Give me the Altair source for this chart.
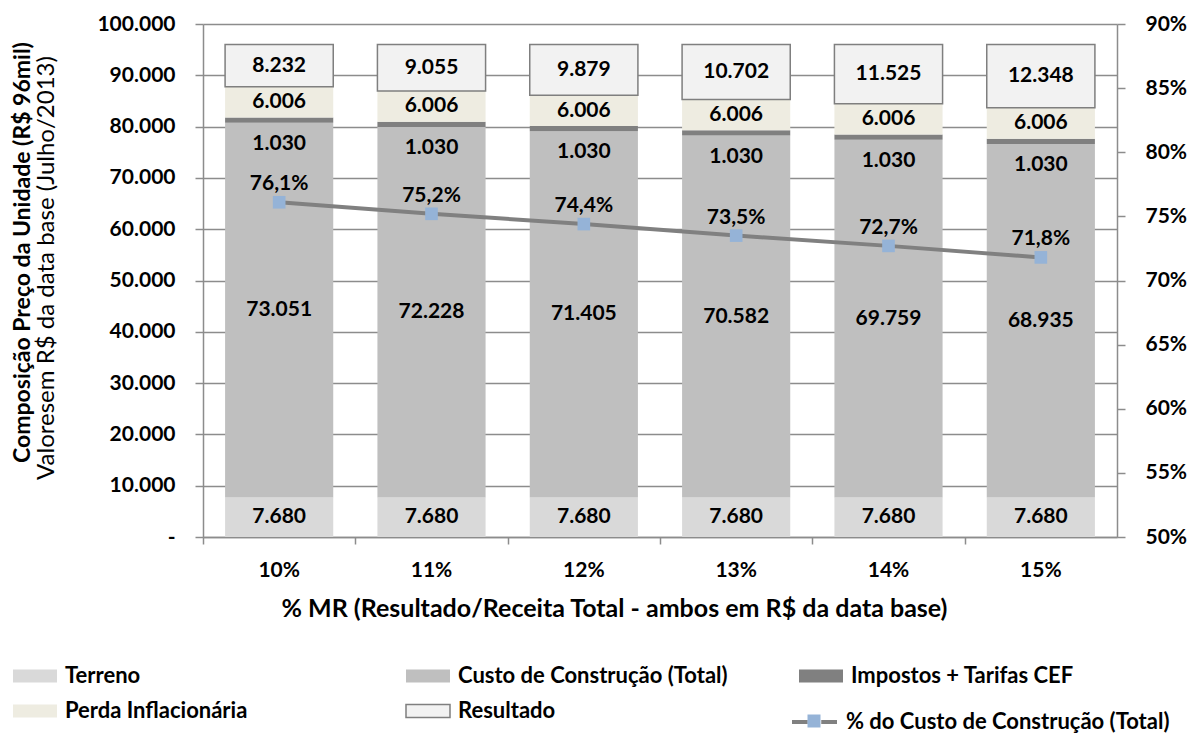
import altair as alt
import pandas as pd

# ---- data ----
categories = ['10%', '11%', '12%', '13%', '14%', '15%']
terreno = [7680, 7680, 7680, 7680, 7680, 7680]
custo = [73051, 72228, 71405, 70582, 69759, 68935]
impostos = [1030, 1030, 1030, 1030, 1030, 1030]
perda = [6006, 6006, 6006, 6006, 6006, 6006]
resultado = [8232, 9055, 9879, 10702, 11525, 12348]
pct_custo = [0.761, 0.752, 0.744, 0.735, 0.727, 0.718]

series_names = ['Terreno', 'Custo de Construção (Total)', 'Impostos + Tarifas CEF',
                'Perda Inflacionária', 'Resultado']
series_colors = ['#d9d9d9', '#bfbfbf', '#808080', '#eeece1', '#f2f2f2']
series_strokes = ['transparent', 'transparent', 'transparent', 'transparent', '#7f7f7f']
# legend fills column by column: this order gives rows
# Terreno | Custo | Impostos  /  Perda | Resultado
legend_order = [0, 3, 1, 4, 2]
line_name = '% do Custo de Construção (Total)'

left_ticks = [0, 10000, 20000, 30000, 40000, 50000, 60000, 70000, 80000, 90000, 100000]
right_ticks = [0.50, 0.55, 0.60, 0.65, 0.70, 0.75, 0.80, 0.85, 0.90]

y_title = 'Composição Preço da Unidade (R$ 96mil)'
y_subtitle = 'Valoresem R$ da data base (Julho/2013)'
x_title = '% MR (Resultado/Receita Total - ambos em R$ da data base)'

# ---- tables ----
rows = []
for i, c in enumerate(categories):
    for j, vals in enumerate([terreno, custo, impostos, perda, resultado]):
        rows.append({'cat': c, 'series': series_names[j], 'idx': j, 'value': vals[i]})
bars_df = pd.DataFrame(rows)
line_df = pd.DataFrame({'cat': categories, 'pct': pct_custo,
                        'lname': [line_name] * 6, 'pname': [line_name] * 6})
sub_df = pd.DataFrame({'t': [y_subtitle]})

dom_order = [series_names[k] for k in legend_order]
col_order = [series_colors[k] for k in legend_order]
stk_order = [series_strokes[k] for k in legend_order]

FONT = 'Lato'
FS = 21
LFS = 22
GRID = '#8c8c8c'
W = 914
PAD_IN = 0.29
PAD_OUT = 0.145

xscale = alt.Scale(domain=categories, paddingInner=PAD_IN, paddingOuter=PAD_OUT)
yscale = alt.Scale(domain=[0, 100000], nice=False, zero=True)
pscale = alt.Scale(domain=[0.5, 0.9], nice=False, zero=False)

bar_legend = alt.Legend(
    orient='none', legendX=-191, legendY=629, title=None, columns=3,
    gridAlign='all', columnPadding=68, rowPadding=1, padding=0,
    symbolType='M-1,-0.3H1V0.3H-1Z', symbolSize=1936, symbolStrokeWidth=1.5,
    labelFont=FONT, labelFontSize=LFS, labelFontWeight='bold', labelColor='black',
    labelOffset=7, labelLimit=600,
)

bars = alt.Chart(bars_df).mark_bar(strokeWidth=1.5).encode(
    x=alt.X('cat:N', sort=categories, scale=xscale, title=x_title,
            axis=alt.Axis(orient='bottom', labelAngle=0, ticks=False, tickSize=0,
                          labelPadding=22,
                          domain=True, domainColor=GRID, domainWidth=1.5, grid=False,
                          labelFont=FONT, labelFontSize=FS, labelFontWeight='bold',
                          labelColor='black', titleFont=FONT, titleFontSize=25,
                          titleFontWeight='bold', titleColor='black',
                          titleX=411, titleAlign='center',
                          titleY=59, titleBaseline='top')),
    y=alt.Y('value:Q', stack='zero', scale=yscale, title=y_title,
            axis=alt.Axis(values=left_ticks,
                          labelExpr="datum.value == 0 ? '-' : replace(format(datum.value, ',.0f'), ',', '.')",
                          grid=True, gridColor=GRID, gridWidth=1.5,
                          tickSize=8, tickColor=GRID, tickWidth=1.5,
                          domainColor=GRID, domainWidth=1.5, labelPadding=20,
                          labelFont=FONT, labelFontSize=FS, labelFontWeight='bold',
                          labelColor='black', titleFont=FONT, titleFontSize=23,
                          titleFontWeight='bold', titleColor='black',
                          titleAngle=270, titleX=-181, titleY=228,
                          titleAlign='center', titleBaseline='middle')),
    fill=alt.Fill('series:N', scale=alt.Scale(domain=dom_order, range=col_order),
                  legend=bar_legend),
    stroke=alt.Stroke('series:N', scale=alt.Scale(domain=dom_order, range=stk_order),
                      legend=bar_legend),
    order=alt.Order('idx:Q', sort='ascending'),
)

stacked = alt.Chart(bars_df).transform_stack(
    stack='value', groupby=['cat'], as_=['y0', 'y1'],
    sort=[alt.SortField('idx', order='ascending')]
).transform_calculate(
    mid='(datum.y0 + datum.y1) / 2',
    lbl="replace(format(datum.value, ',.0f'), ',', '.')",
)

seg_labels = stacked.transform_filter('datum.idx != 2').mark_text(
    font=FONT, fontSize=FS, fontWeight='bold', color='black', baseline='middle'
).encode(
    x=alt.X('cat:N', sort=categories, scale=xscale, axis=None),
    y=alt.Y('mid:Q', scale=yscale, axis=None),
    text='lbl:N',
)

imp_labels = stacked.transform_filter('datum.idx == 2').mark_text(
    font=FONT, fontSize=FS, fontWeight='bold', color='black', baseline='middle', dy=21
).encode(
    x=alt.X('cat:N', sort=categories, scale=xscale, axis=None),
    y=alt.Y('y0:Q', scale=yscale, axis=None),
    text='lbl:N',
)

subtitle = alt.Chart(sub_df).mark_text(
    font=FONT, fontSize=24, fontWeight='normal', color='black', angle=270,
    align='center', baseline='middle'
).encode(x=alt.value(-156), y=alt.value(244), text='t:N')

# category boundary ticks: band start shifted back by half the gap
tick_shift = -PAD_OUT * W / len(categories)

line = alt.Chart(line_df).mark_line(strokeWidth=4).encode(
    x=alt.X('cat:N', sort=categories, scale=xscale, title=None,
            axis=alt.Axis(orient='bottom', labels=False, ticks=True, tickSize=7,
                          tickColor=GRID, tickWidth=1.5, bandPosition=0,
                          tickOffset=tick_shift, domain=False, grid=False)),
    y=alt.Y('pct:Q', scale=pscale, title=None,
            axis=alt.Axis(orient='right', values=right_ticks, format='.0%', grid=False,
                          tickSize=8, tickColor=GRID, tickWidth=1.5,
                          domainColor=GRID, domainWidth=1.5, labelPadding=20,
                          labelFont=FONT, labelFontSize=FS, labelFontWeight='bold',
                          labelColor='black')),
    stroke=alt.Stroke('lname:N', scale=alt.Scale(range=['#808080']),
                      legend=alt.Legend(orient='none', legendX=587, legendY=673.5,
                                        title=None, padding=0,
                                        symbolType='M-1,0H-0.3M0.3,0H1', symbolSize=2025,
                                        symbolStrokeWidth=4, labelFont=FONT,
                                        labelFontSize=LFS, labelFontWeight='bold',
                                        labelColor='black', labelOffset=7,
                                        labelLimit=600)),
)

points = alt.Chart(line_df).mark_square(size=160, opacity=1).encode(
    x=alt.X('cat:N', sort=categories, scale=xscale, axis=None),
    y=alt.Y('pct:Q', scale=pscale, axis=None),
    fill=alt.Fill('pname:N', scale=alt.Scale(range=['#95b3d7']),
                  legend=alt.Legend(orient='none', legendX=603.5, legendY=689.5,
                                    title=None, padding=0, symbolType='square',
                                    symbolSize=169, labelFontSize=1,
                                    labelColor='transparent', labelOffset=0)),
)

line_labels = alt.Chart(line_df).transform_calculate(
    lbl="replace(format(datum.pct, '.1%'), '.', ',')"
).mark_text(
    font=FONT, fontSize=FS, fontWeight='bold', color='black', baseline='middle', dy=-18
).encode(
    x=alt.X('cat:N', sort=categories, scale=xscale, axis=None),
    y=alt.Y('pct:Q', scale=pscale, axis=None),
    text='lbl:N',
)

chart = alt.layer(
    bars, seg_labels, imp_labels, subtitle, line, points, line_labels
).resolve_scale(
    y='independent', fill='independent', stroke='independent'
).resolve_axis(
    x='independent'
).properties(
    width=W, height=513,
    autosize=alt.AutoSizeParams(type='none'),
    padding={'left': 203, 'top': 24, 'right': 86, 'bottom': 212},
    background='white',
).configure_view(stroke=None)

chart.save('out.html', embed_options={'renderer': 'svg', 'actions': False})
